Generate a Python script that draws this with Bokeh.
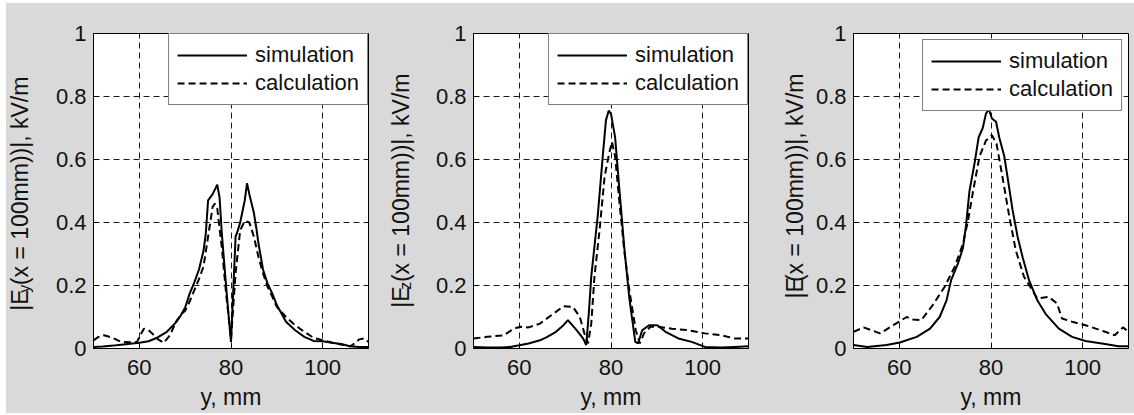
import math
from bokeh.plotting import figure
from bokeh.layouts import row
from bokeh.models import FixedTicker, Range1d
from bokeh.core.properties import value
from bokeh.embed import file_html
from bokeh.resources import INLINE

# ---------------- data ----------------
x_ticks = [60, 80, 100]
x_tick_labels = ["60", "80", "100"]
y_ticks = [0, 0.2, 0.4, 0.6, 0.8, 1]
y_tick_labels = ["0", "0.2", "0.4", "0.6", "0.8", "1"]
series_names = ["simulation", "calculation"]
x_label = "y, mm"

# Panel 1: |Ey|
ey_sim_x = [50, 52, 55, 58, 60, 62, 64, 66, 68, 69, 70, 71, 72, 73, 74, 74.5, 75, 76, 77, 77.5, 78, 79, 80,
            81, 81.5, 82, 83, 83.5, 84, 85, 85.5, 86, 87, 88, 89, 90, 92, 94, 96, 98, 100, 102, 104, 106, 108, 110]
ey_sim_y = [0.005, 0.006, 0.01, 0.015, 0.018, 0.023, 0.035, 0.053, 0.083, 0.104, 0.13, 0.175, 0.21, 0.25, 0.31,
            0.365, 0.47, 0.49, 0.52, 0.48, 0.365, 0.185, 0.02,
            0.355, 0.375, 0.40, 0.47, 0.525, 0.49, 0.43, 0.385, 0.333, 0.25, 0.205, 0.175, 0.138, 0.085, 0.058,
            0.037, 0.024, 0.023, 0.018, 0.014, 0.007, 0.005, 0.005]
ey_calc_x = [50, 51, 52.3, 54, 56, 58, 59.5, 60.5, 61, 62, 63, 64, 65.3, 66.7, 68, 69.2, 70, 71, 72, 73, 74, 75,
             76, 76.5, 77, 78, 79, 80, 81, 82, 83, 84, 85, 86, 87, 88, 89, 90, 92, 94, 96, 98, 100, 102, 104,
             106, 107, 108, 109, 110]
ey_calc_y = [0.026, 0.036, 0.042, 0.035, 0.021, 0.02, 0.021, 0.05, 0.063, 0.058, 0.045, 0.03, 0.018, 0.042,
             0.085, 0.11, 0.12, 0.15, 0.185, 0.22, 0.26, 0.355, 0.45, 0.46, 0.445, 0.32, 0.165, 0.03, 0.24,
             0.375, 0.405, 0.40, 0.355, 0.29, 0.238, 0.195, 0.165, 0.132, 0.10, 0.074, 0.053, 0.034, 0.026,
             0.019, 0.013, 0.007, 0.016, 0.029, 0.032, 0.021]

# Panel 2: |Ez|
ez_sim_x = [50, 53, 56, 58, 60, 62, 64.5, 66, 68, 69.5, 70.6, 71.5, 72.4, 73.9, 74.6, 75.2, 75.7, 77.1, 78.2,
            78.9, 79.5, 80, 80.9, 81.8, 82.9, 84, 85.3, 85.9, 86.8, 88.3, 90.1, 91.9, 94.7, 97.6, 100.5, 104,
            107, 110]
ez_sim_y = [0.005, 0.003, 0.003, 0.005, 0.01, 0.016, 0.026, 0.036, 0.053, 0.072, 0.09, 0.075, 0.06, 0.032,
            0.011, 0.12, 0.23, 0.42, 0.61, 0.725, 0.755, 0.745, 0.67, 0.51, 0.32, 0.16, 0.021, 0.016, 0.058,
            0.074, 0.074, 0.053, 0.032, 0.021, 0.005, 0.003, 0.005, 0.007]
ez_calc_x = [50, 53, 56.6, 58.8, 60.2, 62, 64.5, 67.4, 69.6, 71.7, 73.2, 74.2, 75, 75.7, 76.4, 77.5, 78.6,
             79.6, 80.2, 80.9, 81.8, 82.9, 84, 85.4, 86.3, 87.2, 88.6, 90.1, 93.3, 96.9, 100.5, 104, 107, 110]
ez_calc_y = [0.032, 0.037, 0.042, 0.063, 0.069, 0.067, 0.079, 0.11, 0.134, 0.132, 0.10, 0.048, 0.016, 0.08,
             0.23, 0.375, 0.545, 0.62, 0.656, 0.61, 0.47, 0.31, 0.185, 0.058, 0.016, 0.048, 0.069, 0.069,
             0.063, 0.058, 0.048, 0.042, 0.032, 0.032]

# Panel 3: |E|
e_sim_x = [50, 53, 57.2, 60.1, 63.8, 66.7, 68.8, 70.3, 71.3, 72.8, 73.9, 74.6, 75.3, 76.4, 77.3, 78.2, 78.9,
           79.5, 80.2, 81.1, 81.8, 82.9, 83.6, 84.7, 85.8, 86.9, 88.3, 90.1, 91.9, 94.8, 97.7, 100.6, 104.9,
           107.8, 110]
e_sim_y = [0.011, 0.005, 0.011, 0.019, 0.037, 0.063, 0.10, 0.153, 0.217, 0.27, 0.32, 0.397, 0.50, 0.587,
           0.67, 0.70, 0.745, 0.76, 0.73, 0.72, 0.67, 0.61, 0.545, 0.44, 0.355, 0.29, 0.217, 0.153, 0.11,
           0.063, 0.037, 0.024, 0.014, 0.007, 0.007]
e_calc_x = [50, 52.2, 55.8, 58.7, 61.6, 63, 64.8, 67.3, 69.9, 72.1, 73.9, 75, 76.1, 77.5, 78.9, 80.2, 81.2,
            82.5, 84, 85.4, 87.2, 89, 90.1, 92.6, 94.4, 95.5, 97.7, 100.6, 104.9, 107, 108.8, 110]
e_calc_y = [0.053, 0.067, 0.048, 0.074, 0.10, 0.092, 0.09, 0.138, 0.196, 0.26, 0.333, 0.407, 0.50, 0.61,
            0.66, 0.677, 0.65, 0.545, 0.418, 0.312, 0.228, 0.185, 0.159, 0.164, 0.143, 0.095, 0.085, 0.074,
            0.053, 0.042, 0.067, 0.053]

# y-axis label pieces: (main, subscript, rest)
ylabels = [("|E", "y", "(x = 100mm))|, kV/m"),
           ("|E", "z", "(x = 100mm))|, kV/m"),
           ("|E", "", "(x = 100mm))|, kV/m")]

# ---------------- style ----------------
GRAY = "#d9d9d9"
FONT = "Liberation Sans"
TXT = "#111111"
TICK_PX = 22
LABEL_PX = 23
SUB_PX = 16
LEG_PX = 22
FIG_H = 410

# Liberation Sans advance widths (em), used to lay out the label pieces
ADV = {"|": 0.26, "E": 0.667, "(": 0.333, ")": 0.333, "x": 0.5, " ": 0.278, "=": 0.584, "1": 0.556,
       "0": 0.556, "m": 0.833, ",": 0.278, "k": 0.5, "V": 0.667, "/": 0.278, "y": 0.5, "z": 0.5}


def twidth(s, px):
    return sum(ADV.get(c, 0.556) for c in s) * px


def make_label_fig(width, pieces, center_x, top_y):
    lf = figure(width=width, height=FIG_H, x_range=Range1d(0, width), y_range=Range1d(0, FIG_H),
                output_backend="svg", toolbar_location=None, x_axis_type=None, y_axis_type=None,
                min_border_left=0, min_border_right=0, min_border_top=0, min_border_bottom=0,
                background_fill_color=GRAY, border_fill_color=GRAY, outline_line_color=None)
    main, sub, rest = pieces
    gap = 2 if sub else 0
    total = twidth(main, LABEL_PX) + twidth(sub, SUB_PX) + 2 * gap + twidth(rest, LABEL_PX)
    y0 = top_y - total
    common = dict(angle=math.pi / 2, text_font=value(FONT), text_color=TXT,
                  text_align="left", text_baseline="alphabetic")
    lf.text(x=[center_x], y=[y0], text=[main], text_font_size=f"{LABEL_PX}px", **common)
    y1 = y0 + twidth(main, LABEL_PX) + gap
    if sub:
        lf.text(x=[center_x + 5], y=[y1], text=[sub], text_font_size=f"{SUB_PX}px", **common)
    y2 = y1 + twidth(sub, SUB_PX) + gap
    lf.text(x=[center_x], y=[y2], text=[rest], text_font_size=f"{LABEL_PX}px", **common)
    return lf


def make_panel(width, left_border, right_border, sim_x, sim_y, calc_x, calc_y, leg_margin):
    p = figure(width=width, height=FIG_H, x_range=Range1d(50, 110), y_range=Range1d(0, 1),
               output_backend="svg", toolbar_location=None,
               min_border_left=left_border, min_border_right=right_border,
               min_border_top=30, min_border_bottom=65,
               background_fill_color="white", border_fill_color=GRAY,
               outline_line_color="black", outline_line_width=1)
    p.line(sim_x, sim_y, line_color="black", line_width=2, legend_label=series_names[0])
    p.line(calc_x, calc_y, line_color="black", line_width=2, line_dash="7 4", legend_label=series_names[1])

    p.xaxis.ticker = FixedTicker(ticks=x_ticks)
    p.yaxis.ticker = FixedTicker(ticks=y_ticks)
    p.xaxis.major_label_overrides = {t: l for t, l in zip(x_ticks, x_tick_labels)}
    p.yaxis.major_label_overrides = {t: l for t, l in zip(y_ticks, y_tick_labels)}
    for ax in (p.xaxis[0], p.yaxis[0]):
        ax.major_tick_in = 5
        ax.major_tick_out = 0
        ax.minor_tick_line_color = None
        ax.axis_line_color = "black"
        ax.major_tick_line_color = "black"
        ax.major_label_text_font = FONT
        ax.major_label_text_font_size = f"{TICK_PX}px"
        ax.major_label_text_color = TXT
    p.xaxis.major_label_standoff = 11
    p.yaxis.major_label_standoff = 7
    p.xaxis.axis_label = x_label
    p.xaxis.axis_label_text_font = FONT
    p.xaxis.axis_label_text_font_size = f"{LABEL_PX}px"
    p.xaxis.axis_label_text_font_style = "normal"
    p.xaxis.axis_label_text_color = TXT
    p.xaxis.axis_label_standoff = 6

    for g in (p.xgrid[0], p.ygrid[0]):
        g.grid_line_color = "#1a1a1a"
        g.grid_line_dash = "6 4"
        g.grid_line_width = 1
    p.xgrid.ticker = FixedTicker(ticks=x_ticks)
    p.ygrid.ticker = FixedTicker(ticks=y_ticks)

    lg = p.legend[0]
    lg.location = "top_right"
    lg.margin = leg_margin
    lg.padding = 8
    lg.spacing = 2
    lg.glyph_width = 70
    lg.label_standoff = 8
    lg.label_height = 25
    lg.label_text_font = FONT
    lg.label_text_font_size = f"{LEG_PX}px"
    lg.label_text_color = TXT
    lg.border_line_color = "black"
    lg.border_line_width = 1
    lg.background_fill_color = "white"
    lg.background_fill_alpha = 1.0
    return p


# label strips: text end placed so that it lands near page y=72 (empirical offset included)
TOP_Y = FIG_H - 69 - 46
l1 = make_label_fig(40, ylabels[0], 13, TOP_Y - 4)
p1 = make_panel(336, 47, 14, ey_sim_x, ey_sim_y, ey_calc_x, ey_calc_y, 0)
l2 = make_label_fig(46, ylabels[1], 18, TOP_Y)
p2 = make_panel(340, 45, 20, ez_sim_x, ez_sim_y, ez_calc_x, ez_calc_y, 0)
l3 = make_label_fig(44, ylabels[2], 26, TOP_Y)
p3 = make_panel(322, 41, 6, e_sim_x, e_sim_y, e_calc_x, e_calc_y, 6)

layout = row(l1, p1, l2, p2, l3, p3, margin=(3, 0, 0, 6), styles={"background-color": GRAY})
open("out.html", "w").write(file_html(layout, INLINE))
